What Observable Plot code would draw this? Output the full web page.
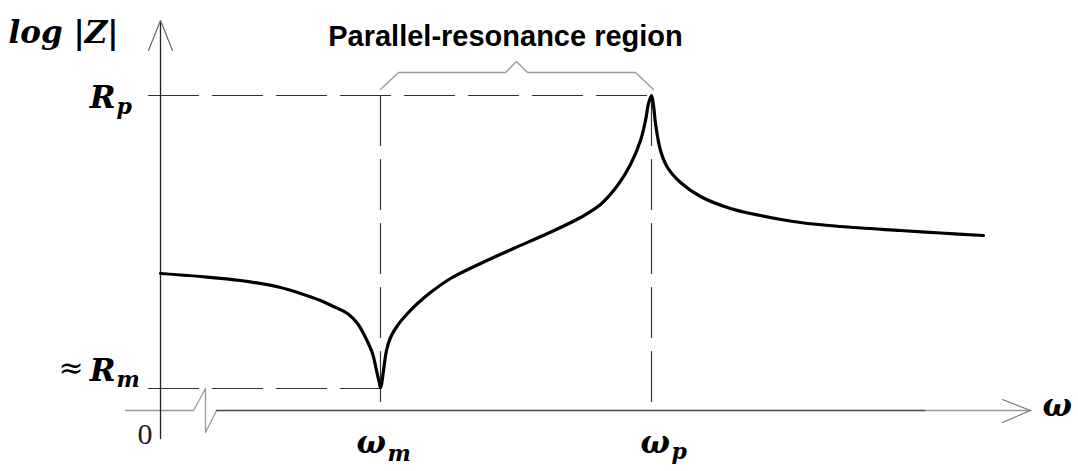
<!DOCTYPE html>
<html>
<head>
<meta charset="utf-8">
<script src="https://cdn.jsdelivr.net/npm/d3@7"></script>
<script src="https://cdn.jsdelivr.net/npm/@observablehq/plot@0.6"></script>
<style>
  html, body { margin: 0; padding: 0; background: #fff; }
  #chart svg { display: block; }
</style>
</head>
<body>
<div id="chart"></div>
<script>
// Impedance curve |Z|(ω), arbitrary units (ω = 0 at the vertical axis, log|Z| = 0 at the horizontal axis)
const omega = [0, 0.4, 0.8, 1.2, 1.4, 1.6, 1.73, 1.87, 1.97, 2.05, 2.12, 2.16, 2.19, 2.2, 2.21, 2.23, 2.26, 2.3, 2.37, 2.47, 2.57, 2.7, 2.9, 3.2, 3.53, 3.87, 4.2, 4.4, 4.57, 4.7, 4.8, 4.85, 4.88, 4.91, 4.93, 4.95, 5.0, 5.07, 5.2, 5.4, 5.7, 6.0, 6.4, 6.8, 7.4, 7.8, 8.23];
const logZ  = [1.37, 1.34, 1.30, 1.23, 1.17, 1.10, 1.04, 0.97, 0.87, 0.73, 0.57, 0.40, 0.27, 0.23, 0.26, 0.40, 0.60, 0.73, 0.85, 0.97, 1.07, 1.18, 1.32, 1.47, 1.62, 1.77, 1.93, 2.06, 2.25, 2.46, 2.70, 2.90, 3.07, 3.15, 3.05, 2.87, 2.60, 2.43, 2.28, 2.14, 2.02, 1.95, 1.88, 1.84, 1.80, 1.775, 1.75];

// Key values
const omegaM = 2.2, omegaP = 4.91;
const Rm = 0.22, Rp = 3.15;

// Axis geometry (data units)
const xAxisLeft = [[-0.35, 0], [0.33, 0], [0.45, 0.22], [0.45, -0.22], [0.56, 0]];
const xAxisMain = [[0.56, 0], [7.65, 0]];
const xAxisTail = [[7.65, 0], [8.70, 0]];
const xArrow = [[8.42, 0.11], [8.70, 0], [8.42, -0.12]];
const yAxisMain = [[0, -0.28], [0, 3.88]];
const yArrow = [[-0.12, 3.60], [0, 3.90], [0.12, 3.60]];
const bracket = [[2.20, 3.21], [2.38, 3.38], [3.45, 3.38], [3.56, 3.49], [3.67, 3.38], [4.75, 3.38], [4.93, 3.21]];

// Guide lines
const guides = [
  [[-0.12, Rp], [omegaP, Rp]],
  [[-0.12, Rm], [omegaM, Rm]],
  [[omegaM, Rp], [omegaM, 0]],
  [[omegaP, Rp], [omegaP, 0]]
];

// Labels
const titleText = "Parallel-resonance region";
const mainLabels = [
  {t: "log |Z|", x: -1.52, y: 3.68, a: "start"},
  {t: "R", x: -0.45, y: 3.03, a: "end"},
  {t: "R", x: -0.45, y: 0.30, a: "end"},
  {t: "ω", x: 1.96, y: -0.42, a: "start"},
  {t: "ω", x: 4.80, y: -0.42, a: "start"},
  {t: "ω", x: 8.82, y: -0.05, a: "start"}
];
const approxLabel = [{t: "≈", x: -1.02, y: 0.33}];
const subLabels = [
  {t: "p", x: -0.44, y: 2.97},
  {t: "m", x: -0.44, y: 0.24},
  {t: "m", x: 2.27, y: -0.50},
  {t: "p", x: 5.11, y: -0.48}
];
const zeroLabel = [{t: "0", x: -0.23, y: -0.33}];

const curve = omega.map((w, i) => ({w, z: logZ[i]}));
const toPts = (arr, id) => arr.map(([x, y]) => ({x, y, id}));
const guidePts = guides.flatMap((g, i) => toPts(g, i));

const mathFont = "DejaVu Serif";

const plot = Plot.plot({
  width: 1078,
  height: 471,
  margin: 0,
  x: {domain: [-1.6, 9.18], range: [0, 1078], axis: null},
  y: {domain: [-0.61, 4.10], range: [471, 0], axis: null},
  style: {background: "#fff"},
  marks: [
    Plot.line(guidePts, {x: "x", y: "y", z: "id", stroke: "#333", strokeWidth: 1.2, strokeDasharray: "50,14"}),
    Plot.line(toPts(xAxisLeft, 0), {x: "x", y: "y", stroke: "#999", strokeWidth: 1.3}),
    Plot.line(toPts(xAxisMain, 0), {x: "x", y: "y", stroke: "#444", strokeWidth: 1.4}),
    Plot.line(toPts(xAxisTail, 0), {x: "x", y: "y", stroke: "#999", strokeWidth: 1.4}),
    Plot.line(toPts(xArrow, 0), {x: "x", y: "y", stroke: "#777", strokeWidth: 1.2}),
    Plot.line(toPts(yAxisMain, 0), {x: "x", y: "y", stroke: "#222", strokeWidth: 1.3}),
    Plot.line(toPts(yArrow, 0), {x: "x", y: "y", stroke: "#666", strokeWidth: 1.2}),
    Plot.line(toPts(bracket, 0), {x: "x", y: "y", stroke: "#999", strokeWidth: 1.4}),
    Plot.line(curve, {x: "w", y: "z", curve: "catmull-rom", stroke: "#000", strokeWidth: 3.2}),
    Plot.text([titleText], {x: [3.45], y: [3.65], text: d => d, textAnchor: "middle", lineAnchor: "bottom",
      fontFamily: "Liberation Sans, Arial, sans-serif", fontWeight: "bold", fontSize: 29, fill: "#000"}),
    Plot.text(mainLabels, {x: "x", y: "y", text: "t", textAnchor: "start", lineAnchor: "bottom",
      filter: d => d.a === "start",
      fontFamily: mathFont, fontWeight: "bold", fontStyle: "italic", fontSize: 31, fill: "#000"}),
    Plot.text(mainLabels, {x: "x", y: "y", text: "t", textAnchor: "end", lineAnchor: "bottom",
      filter: d => d.a === "end",
      fontFamily: mathFont, fontWeight: "bold", fontStyle: "italic", fontSize: 31, fill: "#000"}),
    Plot.text(approxLabel, {x: "x", y: "y", text: "t", textAnchor: "start", lineAnchor: "bottom",
      fontFamily: mathFont, fontSize: 30, fill: "#000"}),
    Plot.text(subLabels, {x: "x", y: "y", text: "t", textAnchor: "start", lineAnchor: "bottom",
      fontFamily: mathFont, fontWeight: "bold", fontStyle: "italic", fontSize: 22, fill: "#000"}),
    Plot.text(zeroLabel, {x: "x", y: "y", text: "t", textAnchor: "start", lineAnchor: "bottom",
      fontFamily: "Liberation Serif, serif", fontSize: 30, fill: "#1a1a2e"})
  ]
});
document.getElementById("chart").appendChild(plot);
</script>
</body>
</html>
